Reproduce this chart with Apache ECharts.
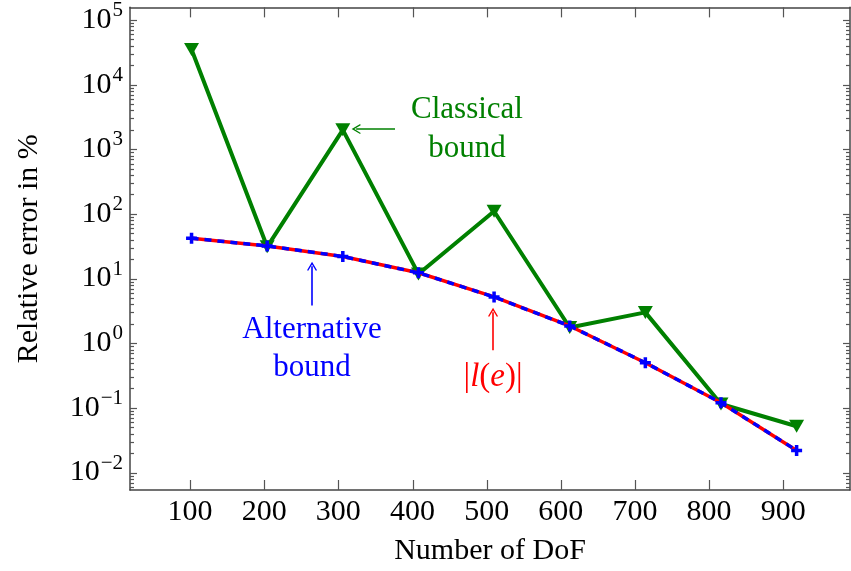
<!DOCTYPE html>
<html>
<head>
<meta charset="utf-8">
<script src="https://cdn.jsdelivr.net/npm/echarts@6/dist/echarts.min.js"></script>
<style>
html, body { margin: 0; padding: 0; background: #fff; }
#chart { width: 851px; height: 571px; }
</style>
</head>
<body>
<div id="chart"></div>
<script>
// data (relative error in %)
var dof = [102, 204, 306, 408, 510, 612, 714, 816, 918];
var classicalBound = [35000, 31, 2000, 11.8, 110, 1.75, 3.0, 0.115, 0.052];
var alternativeBound = [42, 32, 22, 12.3, 5.2, 1.85, 0.50, 0.12, 0.022];
var lOfE = [42, 32, 22, 12.3, 5.2, 1.85, 0.50, 0.12, 0.022];

var xTicks = [100, 200, 300, 400, 500, 600, 700, 800, 900];
var yDecades = [-2, -1, 0, 1, 2, 3, 4, 5];

var FONT = 'Liberation Serif';
var GREEN = '#008000';
var xMin = 19, xMax = 990;
var yMin = -2.27, yMax = 5.195; // log10 space

function toLog(vals) {
	return dof.map(function(x, i) { return [x, Math.log10(vals[i])]; });
}

// minor ticks 2..9 in every decade
var minorTicks = [];
for (var d = -3; d <= 5; d++) {
	for (var k = 2; k <= 9; k++) {
		var v = d + Math.log10(k);
		if (v > yMin && v < yMax) minorTicks.push(v);
	}
}

// tick marks on all four sides, drawn by a custom series
var xTickData = xTicks.map(function(t) { return [t, yMin, 10]; });
var yTickData = yDecades.map(function(t) { return [xMin, t, 7]; })
	.concat(minorTicks.map(function(t) { return [xMin, t, 4]; }));
var tickLine = { stroke: '#555', lineWidth: 1.2, fill: null };

function renderXTick(params, api) {
	var cs = params.coordSys;
	var x = Math.round(api.coord([api.value(0), api.value(1)])[0]) + 0.5;
	var len = api.value(2);
	return {
		type: 'group',
		children: [
			{ type: 'line', shape: { x1: x, y1: cs.y + cs.height, x2: x, y2: cs.y + cs.height - len }, style: tickLine },
			{ type: 'line', shape: { x1: x, y1: cs.y, x2: x, y2: cs.y + len }, style: tickLine }
		]
	};
}

function renderYTick(params, api) {
	var cs = params.coordSys;
	var y = Math.round(api.coord([api.value(0), api.value(1)])[1]) + 0.5;
	var len = api.value(2);
	return {
		type: 'group',
		children: [
			{ type: 'line', shape: { x1: cs.x, y1: y, x2: cs.x + len, y2: y }, style: tickLine },
			{ type: 'line', shape: { x1: cs.x + cs.width, y1: y, x2: cs.x + cs.width - len, y2: y }, style: tickLine }
		]
	};
}

var plusPath = 'path://M3.4,0H6.6V3.4H10V6.6H6.6V10H3.4V6.6H0V3.4H3.4Z';
var arrowHead = 'path://M0,10L5,0L10,10L8.8,10.6L5,3.2L1.2,10.6Z';
var frame = { color: '#444', width: 1.5 };

function plainAxis(pos, min, max) {
	return {
		type: 'value', min: min, max: max, position: pos,
		axisLine: { show: true, onZero: false, lineStyle: frame },
		splitLine: { show: false },
		axisTick: { show: false },
		axisLabel: { show: false }
	};
}

var leftAxis = plainAxis('left', yMin, yMax);
leftAxis.axisLabel = {
	show: true,
	customValues: yDecades,
	margin: 7,
	formatter: function(v) {
		var n = Math.round(v);
		return '{b|10}{s|' + (n < 0 ? '\u2212' + (-n) : n) + '}';
	},
	rich: {
		b: { fontFamily: FONT, fontSize: 30, color: '#000', lineHeight: 30, verticalAlign: 'bottom' },
		s: { fontFamily: FONT, fontSize: 21, color: '#000', lineHeight: 21, padding: [0, 0, 14, 1], verticalAlign: 'bottom' }
	}
};
leftAxis.name = 'Relative error in %';
leftAxis.nameLocation = 'middle';
leftAxis.nameGap = 86;
leftAxis.nameTextStyle = { fontFamily: FONT, fontSize: 30, color: '#000' };

var bottomAxis = plainAxis('bottom', xMin, xMax);
bottomAxis.axisLabel = { show: true, customValues: xTicks, margin: 7, fontFamily: FONT, fontSize: 30, color: '#000' };
bottomAxis.name = 'Number of DoF';
bottomAxis.nameLocation = 'middle';
bottomAxis.nameGap = 46;
bottomAxis.nameTextStyle = { fontFamily: FONT, fontSize: 30, color: '#000' };

var chart = echarts.init(document.getElementById('chart'));
chart.setOption({
	animation: false,
	grid: { left: 130, right: 1, top: 5, bottom: 80 },
	xAxis: [bottomAxis, plainAxis('top', xMin, xMax)],
	yAxis: [leftAxis, plainAxis('right', yMin, yMax)],
	series: [
		{ type: 'custom', data: xTickData, renderItem: renderXTick, silent: true, clip: false, z: 10 },
		{ type: 'custom', data: yTickData, renderItem: renderYTick, silent: true, clip: false, z: 10 },
		{
			name: 'Classical bound', type: 'line', data: toLog(classicalBound), z: 3,
			lineStyle: { color: GREEN, width: 4 },
			itemStyle: { color: GREEN },
			symbol: 'triangle', symbolRotate: 180, symbolSize: [15, 13], showSymbol: true,
			markPoint: {
				silent: true, symbol: 'circle', symbolSize: 0,
				data: [{
					coord: [473.5, 3.315],
					label: { show: true, position: 'inside', formatter: 'Classical\nbound', fontFamily: FONT, fontSize: 31, lineHeight: 39, color: GREEN }
				}]
			},
			markLine: {
				silent: true, symbol: ['none', arrowHead], symbolSize: [10, 9],
				lineStyle: { color: GREEN, width: 1.6, type: 'solid' },
				label: { show: false },
				data: [[{ coord: [376.4, 3.312] }, { coord: [324, 3.312] }]]
			}
		},
		{
			name: '|l(e)|', type: 'line', data: toLog(lOfE), z: 4,
			lineStyle: { color: '#ff0000', width: 3.5 },
			showSymbol: false, symbol: 'none',
			markPoint: {
				silent: true, symbol: 'circle', symbolSize: 0,
				data: [{
					coord: [508.6, -0.523],
					label: {
						show: true, position: 'inside',
						formatter: '{n||}{i|l}{n|(}{i|e}{n|)|}',
						rich: {
							n: { fontFamily: FONT, fontSize: 33, color: '#ff0000' },
							i: { fontFamily: FONT, fontSize: 33, fontStyle: 'italic', color: '#ff0000' }
						}
					}
				}]
			},
			markLine: {
				silent: true, symbol: ['none', arrowHead], symbolSize: [10, 9],
				lineStyle: { color: '#ff0000', width: 1.6, type: 'solid' },
				label: { show: false },
				data: [[{ coord: [508.6, -0.108] }, { coord: [508.6, 0.48] }]]
			}
		},
		{
			name: 'Alternative bound', type: 'line', data: toLog(alternativeBound), z: 5,
			lineStyle: { color: '#0000ff', width: 3.5, type: [7, 6] },
			itemStyle: { color: '#0000ff' },
			symbol: plusPath, symbolSize: 11, showSymbol: true,
			markPoint: {
				silent: true, symbol: 'circle', symbolSize: 0,
				data: [{
					coord: [264.5, -0.092],
					label: { show: true, position: 'inside', formatter: 'Alternative\nbound', fontFamily: FONT, fontSize: 31, lineHeight: 38, color: '#0000ff' }
				}]
			},
			markLine: {
				silent: true, symbol: ['none', arrowHead], symbolSize: [10, 9],
				lineStyle: { color: '#0000ff', width: 1.6, type: 'solid' },
				label: { show: false },
				data: [[{ coord: [264.5, 0.585] }, { coord: [264.5, 1.19] }]]
			}
		}
	]
});
</script>
</body>
</html>
